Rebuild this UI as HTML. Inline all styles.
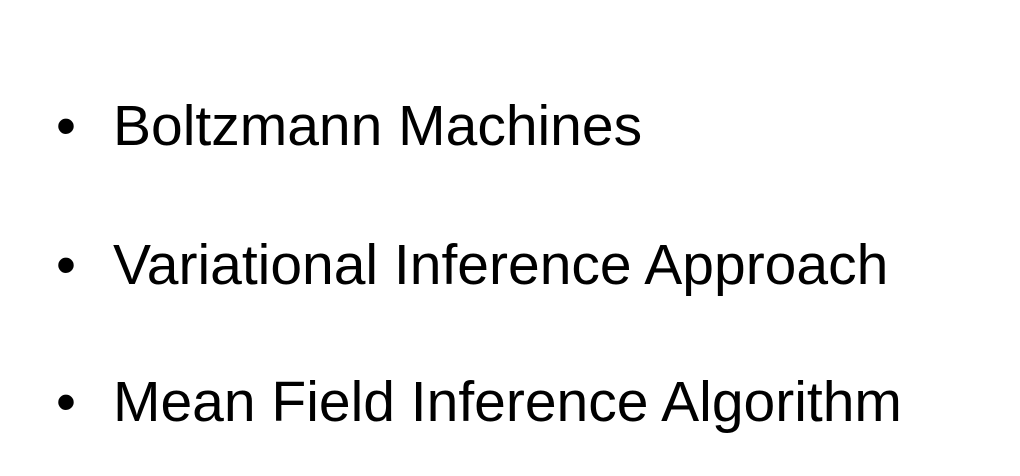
<!DOCTYPE html>
<html>
<head>
<meta charset="utf-8">
<style>
  html,body{margin:0;padding:0;background:#fff;}
  body{width:1020px;height:476px;position:relative;overflow:hidden;
       font-family:"Liberation Sans",Arial,sans-serif;color:#000;}
  .l{position:absolute;left:113px;font-size:57px;line-height:58px;white-space:nowrap;}
  .b{position:absolute;left:56px;font-size:57px;line-height:58px;}
</style>
</head>
<body>
  <div class="b" style="top:97px">•</div>
  <div class="l" style="top:97px">Boltzmann Machines</div>
  <div class="b" style="top:236px">•</div>
  <div class="l" style="top:236px">Variational Inference Approach</div>
  <div class="b" style="top:373px">•</div>
  <div class="l" style="top:373px">Mean Field Inference Algorithm</div>
</body>
</html>
